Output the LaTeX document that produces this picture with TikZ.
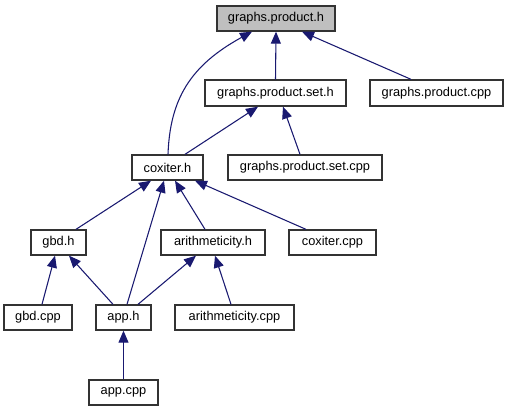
\documentclass[tikz,border=0pt]{standalone}
\usepackage{fontspec}
\setmainfont{Liberation Sans}
\usetikzlibrary{arrows.meta,calc}
\definecolor{edgeblue}{HTML}{191970}
\definecolor{rootgray}{HTML}{BFBFBF}
\tikzset{
  file/.style={draw=black!80, line width=1pt, fill=white, inner sep=0pt,
    minimum height=18.75pt, font=\fontsize{9.6pt}{11pt}\selectfont},
  root/.style={file, fill=rootgray},
  dep/.style={draw=edgeblue, line width=0.8pt,
    -{Triangle[length=9pt,width=7.5pt,fill=edgeblue]}}
}
\begin{document}
\begin{tikzpicture}[x=0.75pt,y=-0.75pt]
\useasboundingbox (0,0) rectangle (509,411);
\node[root, minimum width=88.5pt]  (gph)  at (276,18.5)   {graphs.product.h};
\node[file, minimum width=105.75pt, minimum height=19.5pt] (gps)  at (275.5,93) {graphs.product.set.h};
\node[file, minimum width=99.75pt, minimum height=19.5pt]  (gpc)  at (436.5,93) {graphs.product.cpp};
\node[file, minimum width=53.25pt] (cox)  at (167.5,167.5) {coxiter.h};
\node[file, minimum width=115.5pt] (gpsc) at (305,167.5)   {graphs.product.set.cpp};
\node[file, minimum width=41.25pt] (gbd)  at (58.5,242.5)  {gbd.h};
\node[file, minimum width=78pt]    (ari)  at (213,242.5)   {arithmeticity.h};
\node[file, minimum width=65.25pt] (coxc) at (332.5,242.5) {coxiter.cpp};
\node[file, minimum width=51pt]    (gbdc) at (38,317.5)    {gbd.cpp};
\node[file, minimum width=41.25pt] (app)  at (123.5,317.5) {app.h};
\node[file, minimum width=89.25pt] (aric) at (234.5,317.5) {arithmeticity.cpp};
\node[file, minimum width=51.75pt] (appc) at (123.5,392.5) {app.cpp};

\draw[dep] ($(cox.north)+(0.5,0)$) .. controls +(2,-55) and +(-62,34) .. ($(gph.south)+(-24,0)$);
\draw[dep] (gps.north) -- (gph.south);
\draw[dep] ($(gpc.north)+(-25.5,0)$) -- ($(gph.south)+(26,0)$);
\draw[dep] ($(cox.north)+(17.5,0)$) -- ($(gps.south)+(-17.5,0)$);
\draw[dep] ($(gpsc.north)+(-5,0)$) -- ($(gps.south)+(7.5,0)$);
\draw[dep] ($(gbd.north)+(17.5,0)$) -- ($(cox.south)+(-16.5,0)$);
\draw[dep] ($(app.north)+(3.5,0)$) -- ($(cox.south)+(-3.5,0)$);
\draw[dep] ($(ari.north)+(-8,0)$) -- ($(cox.south)+(7.5,0)$);
\draw[dep] ($(coxc.north)+(-26.5,0)$) -- ($(cox.south)+(27.5,0)$);
\draw[dep] ($(gbdc.north)+(4,0)$) -- ($(gbd.south)+(-3.5,0)$);
\draw[dep] ($(app.north)+(-10.5,0)$) -- ($(gbd.south)+(10.5,0)$);
\draw[dep] ($(app.north)+(14.5,0)$) -- ($(ari.south)+(-17,0)$);
\draw[dep] ($(aric.north)+(-3.5,0)$) -- ($(ari.south)+(2,0)$);
\draw[dep] (appc.north) -- (app.south);
\end{tikzpicture}
\end{document}
